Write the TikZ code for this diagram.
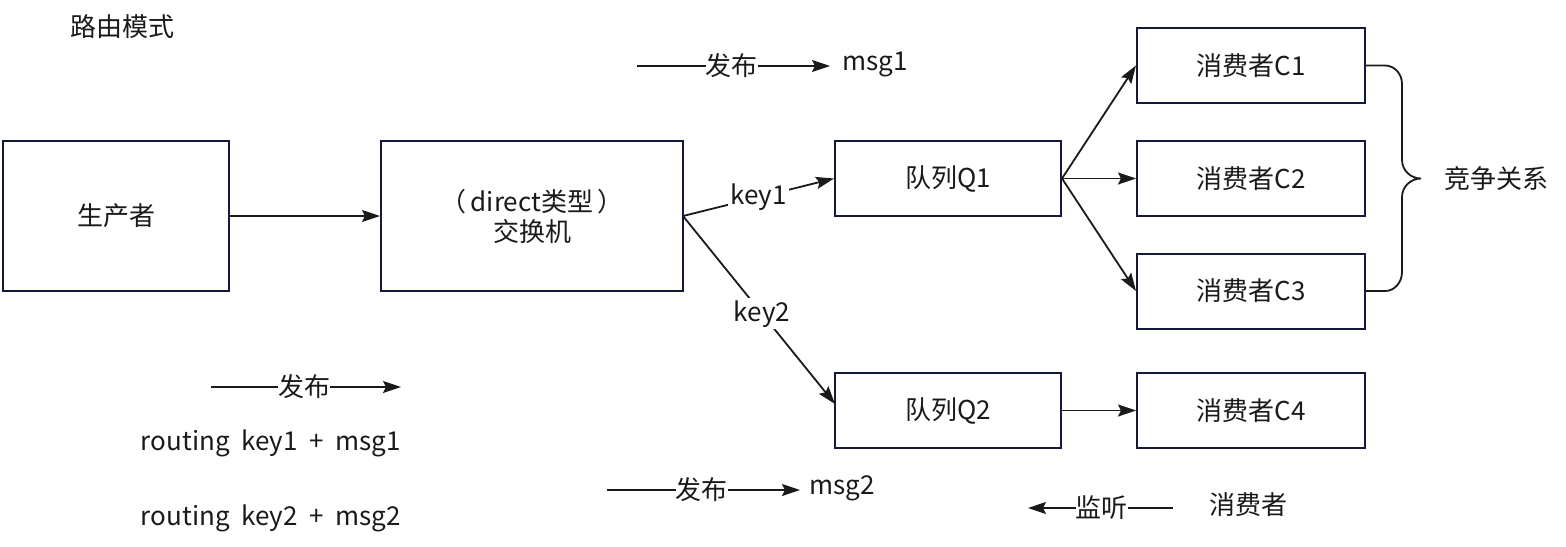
\documentclass[tikz,border=0pt]{standalone}
\usepackage{fontspec}
\setmainfont{Noto Sans CJK SC}
\usetikzlibrary{arrows.meta}
\definecolor{boxline}{HTML}{141A3C}
\definecolor{txt}{HTML}{1A1A1A}
\newcommand{\widesp}{\spaceskip=0.45em plus 0.1em\relax}
\tikzset{
  every node/.style={font=\fontsize{13pt}{15pt}\selectfont, text=txt},
  box/.style={draw=boxline, line width=1pt, fill=white, inner sep=0pt},
  conn/.style={draw=txt, line width=0.9pt, -{Stealth[length=9pt,width=6pt,inset=1.5pt]}},
  plain/.style={draw=txt, line width=0.9pt},
  lbl/.style={fill=white, inner sep=1pt},
}
\begin{document}
\begin{tikzpicture}[x=0.5pt,y=-0.5pt]
\useasboundingbox (0,0) rectangle (1566,546);
% boxes
\node[box, minimum width=113pt, minimum height=75pt] (prod) at (116,216) {生产者};
\node[box, minimum width=151pt, minimum height=75pt, align=center] (ex) at (532,216) {（\,direct类型\,）\\交换机};
\node[box, minimum width=113pt, minimum height=37.5pt] (q1) at (948,178.5) {队列Q1};
\node[box, minimum width=113pt, minimum height=37.5pt] (q2) at (948,410.5) {队列Q2};
\node[box, minimum width=114pt, minimum height=37.5pt] (c1) at (1251,65.5) {消费者C1};
\node[box, minimum width=114pt, minimum height=37.5pt] (c2) at (1251,178.5) {消费者C2};
\node[box, minimum width=114pt, minimum height=37.5pt] (c3) at (1251,291) {消费者C3};
\node[box, minimum width=114pt, minimum height=37.5pt] (c4) at (1251,410.5) {消费者C4};
% title
\node (title) at (122,27) {路由模式};
% connectors
\draw[conn] (prod.east) -- (ex.west);
\coordinate (exo) at (683,216);
\draw[conn] (exo) -- node[lbl, pos=0.5] (k1) {key1} (q1.west);
\draw[conn] (exo) -- node[lbl, pos=0.52] (k2) {key2} (835,404);
\draw[conn] (q1.east) -- (c1.west);
\draw[conn] (q1.east) -- (c2.west);
\draw[conn] (q1.east) -- (c3.west);
\draw[conn] (q2.east) -- (c4.west);
% brace
\draw[plain] (c1.east) -- (1385,65.5) to[out=0,in=90] (1402,84) -- (1402,160)
  to[out=-90,in=180] (1421,178.5) to[out=180,in=90] (1402,197) -- (1402,272)
  to[out=-90,in=0] (1385,291) -- (c3.east);
\node (comp) at (1496,179) {竞争关系};
% legend 1
\coordinate (l1a) at (637,66);
\coordinate (l1b) at (830,66);
\draw[conn] (l1a) -- node[lbl, inner sep=0pt, pos=0.49] (p1) {发布} (l1b);
\node (m1) at (875,64) {msg1};
% legend 2
\coordinate (l2a) at (211,387);
\coordinate (l2b) at (401,387);
\draw[conn] (l2a) -- node[lbl, inner sep=0pt, pos=0.49] (p2) {发布} (l2b);
\node (r1) at (271,443) {\widesp routing key1 + msg1};
\node (r2) at (271,518) {\widesp routing key2 + msg2};
% legend 3
\coordinate (l3a) at (607,490);
\coordinate (l3b) at (800,490);
\draw[conn] (l3a) -- node[lbl, inner sep=0pt, pos=0.49] (p3) {发布} (l3b);
\node (m2) at (842,488) {msg2};
% legend 4
\coordinate (l4a) at (1173,508);
\coordinate (l4b) at (1028,508);
\draw[conn] (l4a) -- node[lbl, inner sep=0pt, pos=0.49] (p4) {监听} (l4b);
\node (cons) at (1248,505) {消费者};
\end{tikzpicture}
\end{document}
